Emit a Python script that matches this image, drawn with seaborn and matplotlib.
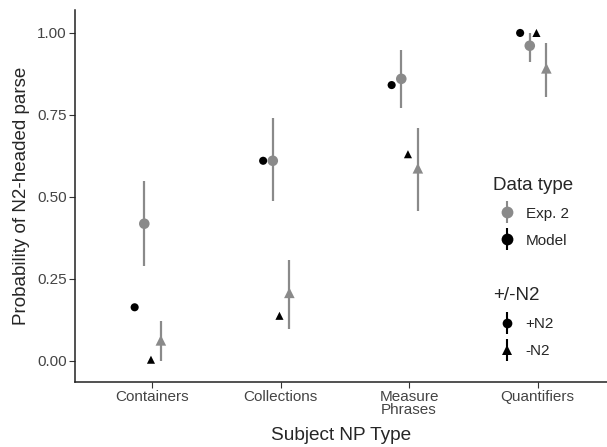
import numpy as np
import pandas as pd
import seaborn as sns
import matplotlib.pyplot as plt
from matplotlib.legend_handler import HandlerErrorbar

# data
categories = ['Containers', 'Collections', 'Measure\nPhrases', 'Quantifiers']
model_pos = [0.163, 0.61, 0.841, 1.0]
model_neg = [0.003, 0.137, 0.63, 1.0]
exp_pos = [0.418, 0.61, 0.86, 0.961]
exp_pos_lo = [0.29, 0.486, 0.77, 0.912]
exp_pos_hi = [0.547, 0.74, 0.948, 1.0]
exp_neg = [0.062, 0.207, 0.587, 0.892]
exp_neg_lo = [0.0, 0.098, 0.457, 0.806]
exp_neg_hi = [0.122, 0.306, 0.709, 0.968]

grey = '#8a8a8a'
offsets = {('Model', '+N2'): -0.136, ('Exp. 2', '+N2'): -0.061,
           ('Model', '-N2'): -0.009, ('Exp. 2', '-N2'): 0.068}

rows = []
for i, c in enumerate(categories):
    rows.append([i, c, 'Model', '+N2', model_pos[i], None, None])
    rows.append([i, c, 'Exp. 2', '+N2', exp_pos[i], exp_pos_lo[i], exp_pos_hi[i]])
    rows.append([i, c, 'Model', '-N2', model_neg[i], None, None])
    rows.append([i, c, 'Exp. 2', '-N2', exp_neg[i], exp_neg_lo[i], exp_neg_hi[i]])
df = pd.DataFrame(rows, columns=['idx', 'category', 'dtype', 'n2', 'prob', 'lo', 'hi'])
df['x'] = df['idx'] + [offsets[(d, n)] for d, n in zip(df['dtype'], df['n2'])]

sns.set_style('ticks')
plt.rcParams['font.family'] = ['Liberation Sans', 'DejaVu Sans']

fig = plt.figure(figsize=(6.07, 4.47), dpi=100)
ax = fig.add_axes([0.1236, 0.1454, 0.8764, 0.8322])

exp = df[df['dtype'] == 'Exp. 2']
ax.vlines(exp['x'], exp['lo'], exp['hi'], color=grey, lw=1.6, zorder=1)

sns.scatterplot(data=df, x='x', y='prob', hue='dtype', style='n2',
                palette={'Exp. 2': grey, 'Model': 'black'},
                markers={'+N2': 'o', '-N2': '^'},
                size='dtype', sizes={'Exp. 2': 58, 'Model': 34},
                linewidth=0, legend=False, ax=ax, zorder=2)

ax.set_xlim(-0.6, 3.54)
ax.set_ylim(-0.065, 1.07)
ax.set_xticks(range(len(categories)))
ax.set_xticklabels(categories, fontsize=11, color='#444444', linespacing=0.9)
ax.set_yticks([0, 0.25, 0.5, 0.75, 1.0])
ax.set_yticklabels(['0.00', '0.25', '0.50', '0.75', '1.00'], fontsize=11, color='#444444')
ax.tick_params(length=4, width=0.8, color='#333333', pad=2)
for s in ['top', 'right']:
    ax.spines[s].set_visible(False)
for s in ['left', 'bottom']:
    ax.spines[s].set_linewidth(1.1)
    ax.spines[s].set_color('#222222')
ax.set_xlabel('Subject NP Type', fontsize=13.7, labelpad=7)
ax.set_ylabel('Probability of N2-headed parse', fontsize=13.5, labelpad=5)


def key(color, marker, ms):
    # empty errorbar just for a pointrange-like legend key
    h = ax.errorbar([np.nan], [np.nan], yerr=[np.nan], color=color, marker=marker,
                    markersize=ms, mew=0, ls='', elinewidth=1.5, capsize=0)
    return h


handler = {}
k1 = [key(grey, 'o', 8.5), key('black', 'o', 8.5)]
k2 = [key('black', 'o', 7), key('black', '^', 7.5)]
for h in k1 + k2:
    handler[h] = HandlerErrorbar(yerr_size=0.72)

leg_kw = dict(loc='upper left', frameon=False, fontsize=11, title_fontsize=13.5,
              alignment='left', handlelength=1.9, handletextpad=0.25,
              labelspacing=0.85, borderaxespad=0, borderpad=0, handler_map=handler)
leg1 = fig.legend(k1, ['Exp. 2', 'Model'], title='Data type',
                  bbox_to_anchor=(0.812, 0.605), **leg_kw)
leg2 = fig.legend(k2, ['+N2', '-N2'], title='+/-N2',
                  bbox_to_anchor=(0.812, 0.357), **leg_kw)

fig.savefig('out.png', dpi=100)
